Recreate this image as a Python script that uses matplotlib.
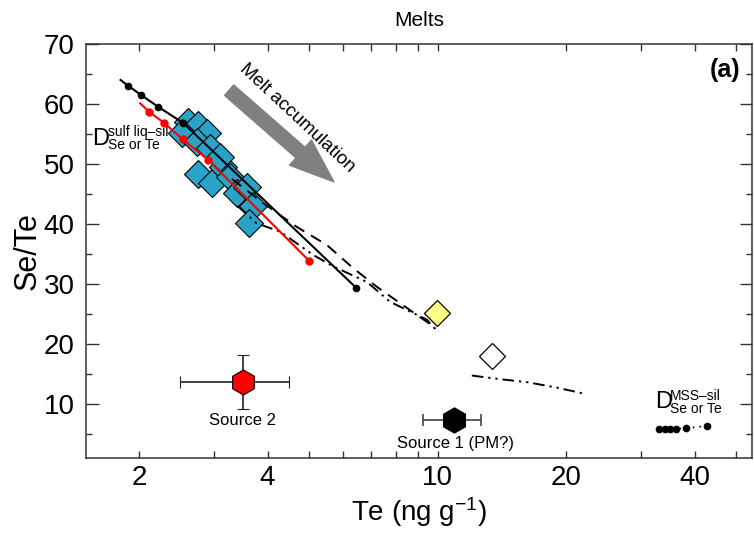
import numpy as np
import matplotlib.pyplot as plt

plt.rcParams['font.family'] = ['Liberation Sans', 'DejaVu Sans']
plt.rcParams['mathtext.fontset'] = 'custom'
plt.rcParams['mathtext.rm'] = 'Liberation Sans'
plt.rcParams['mathtext.it'] = 'Liberation Sans:italic'
plt.rcParams['mathtext.bf'] = 'Liberation Sans:bold'

# melt samples (Te, Se/Te)
melt_te = [2.61, 2.75, 2.88, 2.52, 2.73, 2.93, 2.75, 2.96, 3.15, 3.27, 3.39, 3.57, 3.70, 3.61, 3.10]
melt_sete = [57.0, 56.5, 55.1, 55.1, 53.7, 52.6, 48.4, 46.8, 49.5, 47.9, 45.1, 46.2, 42.9, 40.1, 51.2]

# single samples
yellow_te, yellow_sete = 9.96, 25.1
open_te, open_sete = 13.44, 18.0

# sources with uncertainties
src2_te, src2_sete, src2_xerr, src2_yerr = 3.5, 13.7, 1.0, 4.5
src1_te, src1_sete, src1_xerr = 10.95, 7.3, 1.7

# sulfide liquid - silicate model curves
black_te = [1.81, 1.888, 2.022, 2.22, 2.54, 6.445]
black_sete = [64.0, 63.0, 61.5, 59.5, 56.8, 29.35]
red_te = [2.011, 2.111, 2.292, 2.531, 2.906, 5.01]
red_sete = [60.1, 58.7, 56.8, 54.1, 50.65, 33.8]

dash_te = [3.3, 3.9, 4.68, 5.50, 6.35, 7.21, 8.95, 9.92]
dash_sete = [47.5, 43.5, 39.5, 36.5, 32.6, 29.5, 24.8, 22.6]
dd_te = [3.4, 3.77, 4.28, 5.12, 5.70, 6.84, 7.74, 9.45, 9.92]
dd_sete = [43.0, 40.1, 38.7, 34.8, 32.9, 30.3, 27.0, 24.0, 22.3]

# MSS - silicate model
mss_line_te = [12.03, 14.0, 16.2, 19.0, 22.3]
mss_line_sete = [14.7, 14.1, 13.6, 12.7, 11.6]
mss_te = [33.1, 34.1, 35.0, 36.1, 38.2, 42.7]
mss_sete = [5.8, 5.8, 5.8, 5.85, 5.9, 6.3]

fig = plt.figure(figsize=(7.54, 5.36), dpi=100)
ax = fig.add_axes([0.1137, 0.1461, 0.9973 - 0.1137, 0.9179 - 0.1461])

ax.set_xscale('log')
ax.set_xlim(1.5, 54.5)
ax.set_ylim(1, 70)

blue = '#2aa3c9'
ax.plot(melt_te, melt_sete, 'D', ms=14, mfc=blue, mec='black', mew=0.8, zorder=2)
ax.plot(yellow_te, yellow_sete, 'D', ms=13.5, mfc='#ffff88', mec='black', mew=0.9, zorder=2)
ax.plot(open_te, open_sete, 'D', ms=13.5, mfc='white', mec='black', mew=0.9, zorder=2)

dashdotdot = (0, (6, 2.5, 1.2, 2.5, 1.2, 2.5))
ax.plot(dash_te, dash_sete, color='black', lw=1.4, ls=(0, (6, 4)), zorder=3)
ax.plot(dd_te, dd_sete, color='black', lw=1.4, ls=dashdotdot, zorder=3)
ax.plot(mss_line_te, mss_line_sete, color='black', lw=1.4, ls=dashdotdot, zorder=3)

ax.plot(black_te, black_sete, color='black', lw=1.5, zorder=4)
ax.plot(black_te[1:], black_sete[1:], 'o', color='black', ms=4.5, zorder=4)
ax.plot(red_te, red_sete, color='red', lw=1.5, zorder=4)
ax.plot(red_te[1:], red_sete[1:], 'o', color='red', ms=5, zorder=4)

ax.plot(mss_te, mss_sete, color='black', lw=1.2, ls=(0, (1, 3)), zorder=4)
ax.plot(mss_te, mss_sete, 'o', color='black', ms=4.5, zorder=4)

ax.errorbar(src2_te, src2_sete, xerr=src2_xerr, yerr=src2_yerr, fmt='h', ms=18,
            mfc='red', mec='black', mew=0.8, ecolor='#222222', elinewidth=1.2,
            capsize=4, capthick=1.2, zorder=5)
ax.errorbar(src1_te, src1_sete, xerr=src1_xerr, fmt='h', ms=18,
            mfc='black', mec='black', ecolor='#444444', elinewidth=1.2,
            capsize=4, capthick=1.2, zorder=5)
ax.text(src2_te, 7.2, 'Source 2', ha='center', va='center', fontsize=12)
ax.text(11.0, 3.4, 'Source 1 (PM?)', ha='center', va='center', fontsize=12)

# melt accumulation arrow
ax.annotate('', xy=(5.72, 47.0), xytext=(3.25, 62.3),
            arrowprops=dict(arrowstyle='simple,head_width=1.2,head_length=1.6,tail_width=0.5',
                            color='#808080', mutation_scale=20, shrinkA=0, shrinkB=0),
            zorder=3)
ax.text(4.68, 57.7, 'Melt accumulation', rotation=-43, ha='center', va='center',
        fontsize=13.5, rotation_mode='anchor')

# partition coefficient labels
ax.text(1.55, 53.2, 'D', fontsize=17, ha='left', va='baseline')
ax.text(1.692, 54.6, 'sulf liq\u2013sil', fontsize=10, ha='left', va='baseline')
ax.text(1.692, 52.5, 'Se or Te', fontsize=10, ha='left', va='baseline')
ax.text(32.3, 9.3, 'D', fontsize=17, ha='left', va='baseline')
ax.text(35.0, 10.7, 'MSS\u2013sil', fontsize=10, ha='left', va='baseline')
ax.text(35.0, 8.4, 'Se or Te', fontsize=10, ha='left', va='baseline')

ax.text(0.983, 0.937, '(a)', transform=ax.transAxes, ha='right', va='center',
        fontsize=18, fontweight='bold')

ax.set_xticks([2, 4, 10, 20, 40])
ax.set_xticklabels(['2', '4', '10', '20', '40'])
ax.set_xticks([3, 5, 6, 7, 8, 9, 30, 50], minor=True)
ax.xaxis.set_minor_formatter(plt.NullFormatter())
ax.set_yticks([10, 20, 30, 40, 50, 60, 70])
ax.set_yticks([5, 15, 25, 35, 45, 55, 65], minor=True)

ax.tick_params(axis='both', which='both', direction='in', top=True, right=True,
               color='#333333', width=1.0)
ax.tick_params(axis='y', which='major', length=9, pad=8, labelsize=20)
ax.tick_params(axis='y', which='minor', length=4.5)
ax.tick_params(axis='x', which='both', length=5, pad=5, labelsize=20)
for s in ax.spines.values():
    s.set_color('#333333')
    s.set_linewidth(1.1)

ax.set_xlabel('Te (ng g$^{-1}$)', fontsize=20, labelpad=3)
ax.set_ylabel('Se/Te', fontsize=22, labelpad=1)
fig.text(0.556, 1 - 20 / 536, 'Melts', ha='center', va='center', fontsize=15)

fig.savefig('out.png', dpi=100)
